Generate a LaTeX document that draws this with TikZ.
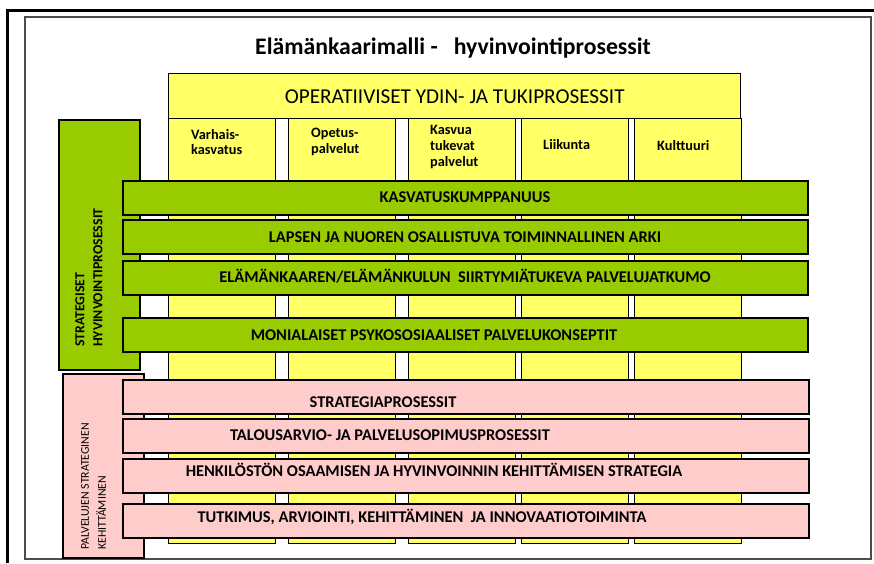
\documentclass[tikz,border=0pt]{standalone}
\usepackage{fontspec}
\setmainfont{Carlito}
\usetikzlibrary{calc}
\definecolor{keltainen}{HTML}{FFFF66}
\definecolor{vihrea}{HTML}{99CC00}
\definecolor{pinkki}{HTML}{FFCCCC}
\begin{document}
\begin{tikzpicture}[x=1pt,y=-1pt,
	colbox/.style={draw,fill=keltainen,line width=1.4pt,anchor=north west,inner sep=0pt,minimum width=107pt,minimum height=425pt},
	collab/.style={anchor=west,align=left,inner sep=0pt,font=\bfseries\fontsize{14.3}{15.8}\selectfont},
	gbar/.style={draw,fill=vihrea,line width=1.8pt,anchor=north west,inner sep=0pt,minimum width=685pt,minimum height=34pt},
	pbar/.style={gbar,fill=pinkki,minimum width=686pt},
	bartxt/.style={inner sep=0pt,font=\bfseries\fontsize{16.4}{19}\selectfont},
	sidebox/.style={draw,line width=1.8pt,anchor=north west,inner sep=0pt,minimum width=81pt}]
\useasboundingbox (0,0) rectangle (874,563);
\draw[line width=3pt](7,563)--(7,10)--(874,10);
\draw[gray!60!black,line width=1.3pt](25,17)rectangle(871,559);
\node[font=\bfseries\fontsize{23.7}{28}\selectfont](otsikko)at(453,48){Elämänkaarimalli -\ \ \ hyvinvointiprosessit};
\node[colbox](k1)at(168,118){};
\node[colbox](k2)at(288,118){};
\node[colbox](k3)at(408,118){};
\node[colbox](k4)at(521,118){};
\node[colbox](k5)at(634,118){};
\node[colbox,minimum width=572pt,minimum height=45pt,font=\fontsize{21.2}{25}\selectfont](ydin)at(168,73){OPERATIIVISET YDIN- JA TUKIPROSESSIT};
\node[collab](l1)at($(k1.north west)+(23,24)$){Varhais-\\kasvatus};
\node[collab](l2)at($(k2.north west)+(23,24)$){Opetus-\\palvelut};
\node[collab](l3)at($(k3.north west)+(22,29)$){Kasvua\\tukevat\\palvelut};
\node[collab](l4)at($(k4.north west)+(22,27)$){Liikunta};
\node[collab](l5)at($(k5.north west)+(23,28)$){Kulttuuri};
\node[sidebox,fill=vihrea,minimum height=250pt](strat)at(58,119){};
\node[rotate=90,anchor=west,align=left,inner sep=0pt,font=\bfseries\fontsize{13.8}{18}\selectfont](stratlab)at(89,347){STRATEGISET\\HYVINVOINTIPROSESSIT};
\node[gbar](g1)at(122,180){};
\node[gbar](g2)at(122,219){};
\node[gbar](g3)at(122,260){};
\node[gbar](g4)at(122,317){};
\node[bartxt](gt1)at(465,197){KASVATUSKUMPPANUUS};
\node[bartxt](gt2)at(465,237){LAPSEN JA NUOREN OSALLISTUVA TOIMINNALLINEN ARKI};
\node[bartxt](gt3)at(465,276){ELÄMÄNKAAREN/ELÄMÄNKULUN\ \ SIIRTYMIÄTUKEVA PALVELUJATKUMO};
\node[bartxt](gt4)at(434,335){MONIALAISET PSYKOSOSIAALISET PALVELUKONSEPTIT};
\node[sidebox,fill=pinkki,minimum height=184pt](kehit)at(62,373){};
\node[rotate=90,anchor=west,align=left,inner sep=0pt,font=\fontsize{11.8}{17}\selectfont](kehitlab)at(93.5,550){PALVELUJEN STRATEGINEN\\KEHITTÄMINEN};
\node[pbar](p1)at(122,379){};
\node[pbar](p2)at(122,418){};
\node[pbar](p3)at(122,458){};
\node[pbar](p4)at(122,503){};
\node[bartxt](pt1)at(383,402){STRATEGIAPROSESSIT};
\node[bartxt](pt2)at(390,435){TALOUSARVIO- JA PALVELUSOPIMUSPROSESSIT};
\node[bartxt](pt3)at(434,470){HENKILÖSTÖN OSAAMISEN JA HYVINVOINNIN KEHITTÄMISEN STRATEGIA};
\node[bartxt](pt4)at(422,517){TUTKIMUS, ARVIOINTI, KEHITTÄMINEN\ \ JA INNOVAATIOTOIMINTA};
\end{tikzpicture}
\end{document}
